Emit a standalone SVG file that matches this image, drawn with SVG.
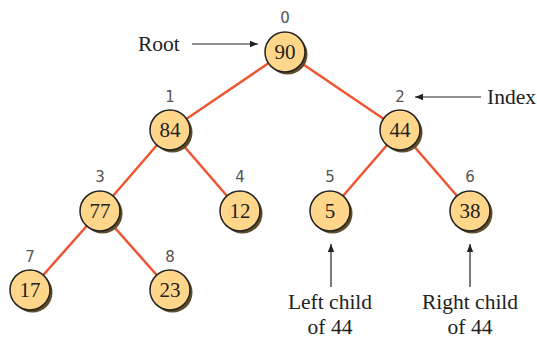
<svg xmlns="http://www.w3.org/2000/svg" width="537" height="339" viewBox="0 0 537 339">
<defs>
<marker id="ah" viewBox="0 0 10 10" refX="10" refY="5" markerWidth="8" markerHeight="8" markerUnits="userSpaceOnUse" orient="auto"><path d="M0,1 L10,5 L0,9 z" fill="#222"/></marker>
</defs>
<style>
.e{stroke:#EE5530;stroke-width:2.5;fill:none}
.sh{fill:#5e4d28}
.c{fill:#FFD68A;stroke:#222;stroke-width:1.5}
.v{font-family:"Liberation Serif",serif;font-size:21px;fill:#222;text-anchor:middle}
.i{font-family:"DejaVu Sans","Liberation Sans",sans-serif;font-size:15px;fill:#555;text-anchor:middle}
.l{font-family:"Liberation Serif",serif;font-size:21.5px;fill:#222}
.a{stroke:#222;stroke-width:1.2;fill:none;marker-end:url(#ah)}
</style>
<rect width="537" height="339" fill="#fff"/>
<g id="edges">
<line class="e" x1="285" y1="52" x2="170" y2="130"/>
<line class="e" x1="285" y1="52" x2="400" y2="130"/>
<line class="e" x1="170" y1="130" x2="100" y2="211"/>
<line class="e" x1="170" y1="130" x2="240" y2="211"/>
<line class="e" x1="400" y1="130" x2="330" y2="211"/>
<line class="e" x1="400" y1="130" x2="470" y2="211"/>
<line class="e" x1="100" y1="211" x2="30" y2="290"/>
<line class="e" x1="100" y1="211" x2="170" y2="290"/>
<line class="a" x1="192" y1="44" x2="258" y2="44"/>
<line class="a" x1="481" y1="97" x2="415" y2="97"/>
<line class="a" x1="331" y1="287" x2="331" y2="244"/>
<line class="a" x1="470" y1="287" x2="470" y2="244"/>
</g>
<g id="n0"><circle class="sh" cx="287.5" cy="54.5" r="20"/><circle class="c" cx="285" cy="52" r="20"/><text class="v" x="285" y="59">90</text><text class="i" x="285" y="23">0</text></g>
<g id="n1"><circle class="sh" cx="172.5" cy="132.5" r="20"/><circle class="c" cx="170" cy="130" r="20"/><text class="v" x="170" y="137">84</text><text class="i" x="170" y="102">1</text></g>
<g id="n2"><circle class="sh" cx="402.5" cy="132.5" r="20"/><circle class="c" cx="400" cy="130" r="20"/><text class="v" x="400" y="137">44</text><text class="i" x="400" y="102">2</text></g>
<g id="n3"><circle class="sh" cx="102.5" cy="213.5" r="20"/><circle class="c" cx="100" cy="211" r="20"/><text class="v" x="100" y="218">77</text><text class="i" x="100" y="182">3</text></g>
<g id="n4"><circle class="sh" cx="242.5" cy="213.5" r="20"/><circle class="c" cx="240" cy="211" r="20"/><text class="v" x="240" y="218">12</text><text class="i" x="240" y="182">4</text></g>
<g id="n5"><circle class="sh" cx="332.5" cy="213.5" r="20"/><circle class="c" cx="330" cy="211" r="20"/><text class="v" x="330" y="218">5</text><text class="i" x="330" y="182">5</text></g>
<g id="n6"><circle class="sh" cx="472.5" cy="213.5" r="20"/><circle class="c" cx="470" cy="211" r="20"/><text class="v" x="470" y="218">38</text><text class="i" x="470" y="182">6</text></g>
<g id="n7"><circle class="sh" cx="32.5" cy="292.5" r="20"/><circle class="c" cx="30" cy="290" r="20"/><text class="v" x="30" y="297">17</text><text class="i" x="30" y="262">7</text></g>
<g id="n8"><circle class="sh" cx="172.5" cy="292.5" r="20"/><circle class="c" cx="170" cy="290" r="20"/><text class="v" x="170" y="297">23</text><text class="i" x="170" y="262">8</text></g>
<g id="labels">
<text class="l" x="138" y="51">Root</text>
<text class="l" x="487" y="104">Index</text>
<text class="l" x="330" y="309" text-anchor="middle">Left child</text>
<text class="l" x="330" y="334" text-anchor="middle">of 44</text>
<text class="l" x="470" y="309" text-anchor="middle">Right child</text>
<text class="l" x="470" y="334" text-anchor="middle">of 44</text>
</g>
</svg>
